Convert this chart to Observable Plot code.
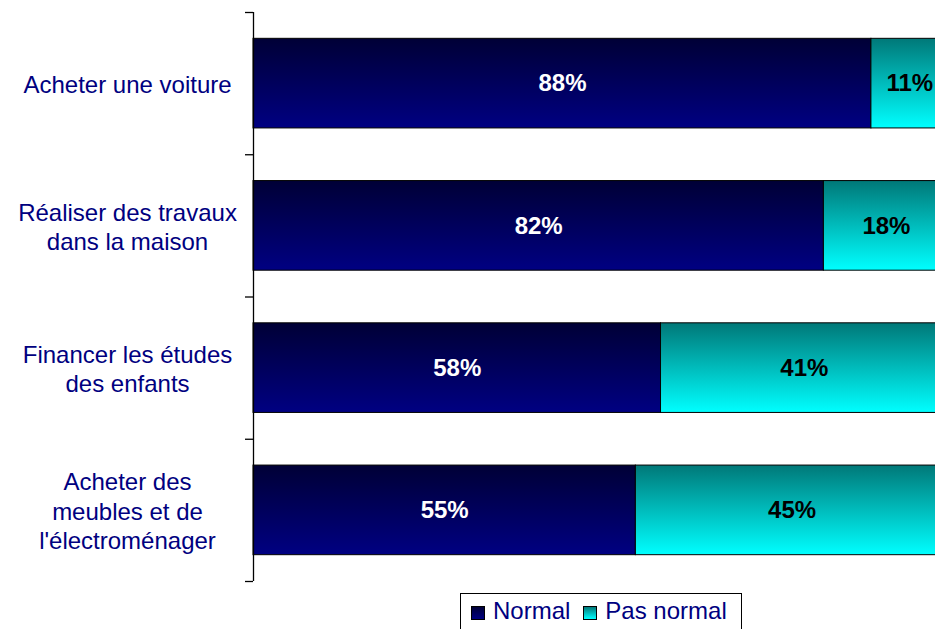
<!DOCTYPE html>
<html>
<head>
<meta charset="utf-8">
<script src="https://cdn.jsdelivr.net/npm/d3@7"></script>
<script src="https://cdn.jsdelivr.net/npm/@observablehq/plot@0.6"></script>
<style>
  html, body { margin: 0; padding: 0; background: #fff; overflow: hidden; width: 935px; height: 629px; }
  #wrap { position: relative; width: 935px; height: 629px; font-family: Arial, "Liberation Sans", sans-serif; }
  #legend { position: absolute; left: 460px; top: 593px; width: 282px; height: 40px; border: 1px solid #000; box-sizing: border-box;
            display: flex; align-items: flex-start; padding-top: 3px; padding-left: 10px; font-size: 24px; color: #000080; background: #fff; }
  .sw { display: inline-block; width: 12px; height: 12px; border: 1px solid #000; margin-right: 8px; margin-top: 9px; }
  .item { display: flex; align-items: flex-start; margin-right: 13px; }
</style>
</head>
<body>
<div id="wrap"></div>
<script>
const categories = [
  "Acheter une voiture",
  "Réaliser des travaux\ndans la maison",
  "Financer les études\ndes enfants",
  "Acheter des\nmeubles et de\nl'électroménager"
];
const normal = [88.4, 81.6, 58.3, 54.7];
const pasNormal = [11.0, 17.9, 41.0, 44.7];
const seriesNames = ["Normal", "Pas normal"];

const inset = 0.185;
const segs = [];
categories.forEach((c, i) => {
  segs.push({cat: c, i, series: seriesNames[0], value: normal[i], x1: 0, x2: normal[i]});
  segs.push({cat: c, i, series: seriesNames[1], value: pasNormal[i], x1: normal[i], x2: normal[i] + pasNormal[i]});
});
const fillOf = s => s === seriesNames[0] ? "url(#gNormal)" : "url(#gPas)";
const textOf = s => s === seriesNames[0] ? "#ffffff" : "#000000";

const chart = Plot.plot({
  width: 935,
  height: 583,
  marginTop: 12,
  marginBottom: 2,
  marginLeft: 253,
  marginRight: 0,
  style: "font-family: Arial, 'Liberation Sans', sans-serif; background: white; max-width: none;",
  x: {domain: [0, 100], range: [253, 952], axis: null},
  y: {domain: [0, 4], reverse: true, ticks: [0, 1, 2, 3, 4], tickSize: 8, tickFormat: () => "", label: null},
  marks: [
    Plot.rect(segs, {
      x1: "x1", x2: "x2",
      y1: d => d.i + inset, y2: d => d.i + 1 - inset,
      fill: d => fillOf(d.series),
      stroke: "#000", strokeWidth: 1
    }),
    Plot.text(segs, {
      x: d => (d.x1 + d.x2) / 2,
      y: d => d.i + 0.5,
      text: d => Math.round(d.value) + "%",
      fill: d => textOf(d.series),
      fontSize: 24, fontWeight: "bold"
    }),
    Plot.text(categories, {
      x: () => 0, y: (d, i) => i + 0.5,
      text: d => d, dx: -126, textAnchor: "middle",
      lineHeight: 1.22, fontSize: 24, fill: "#000080"
    }),
    Plot.ruleX([0], {y1: 0, y2: 4, stroke: "#000", strokeWidth: 1.3})
  ]
});

const svg = d3.select(chart);
svg.selectAll("[aria-label='y-axis tick'] path, g[aria-label='y-axis'] path").attr("stroke-width", 1.3);
const defs = svg.insert("defs", ":first-child");
const g1 = defs.append("linearGradient").attr("id", "gNormal").attr("x1", 0).attr("y1", 0).attr("x2", 0).attr("y2", 1);
g1.append("stop").attr("offset", "0%").attr("stop-color", "#000036");
g1.append("stop").attr("offset", "100%").attr("stop-color", "#000082");
const g2 = defs.append("linearGradient").attr("id", "gPas").attr("x1", 0).attr("y1", 0).attr("x2", 0).attr("y2", 1);
g2.append("stop").attr("offset", "0%").attr("stop-color", "#007878");
g2.append("stop").attr("offset", "100%").attr("stop-color", "#00ffff");

const wrap = document.getElementById("wrap");
wrap.appendChild(chart);

const legend = document.createElement("div");
legend.id = "legend";
const swatchBg = [
  "linear-gradient(#000036, #000082)",
  "linear-gradient(#007878, #00ffff)"
];
seriesNames.forEach((n, k) => {
  const item = document.createElement("span");
  item.className = "item";
  const sw = document.createElement("span");
  sw.className = "sw";
  sw.style.background = swatchBg[k];
  item.appendChild(sw);
  item.appendChild(document.createTextNode(n));
  legend.appendChild(item);
});
wrap.appendChild(legend);
</script>
</body>
</html>
